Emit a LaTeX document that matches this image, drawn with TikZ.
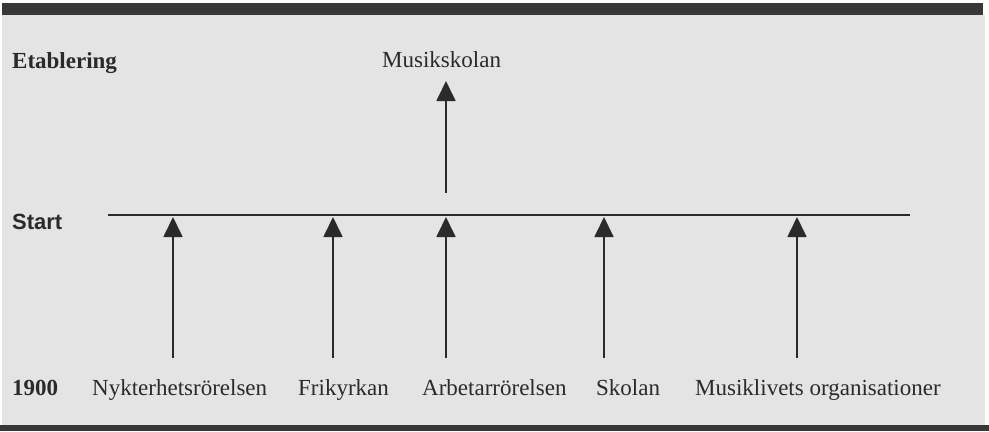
\documentclass[tikz,border=0pt]{standalone}
\usepackage{fontspec}
\setmainfont{Liberation Serif}
\setsansfont{Liberation Sans}
\usetikzlibrary{arrows.meta}
\definecolor{bg}{HTML}{E4E4E4}
\definecolor{bar}{HTML}{383838}
\definecolor{ink}{HTML}{2A2A2A}
\tikzset{
  lbl/.style={anchor=base west, inner sep=0pt, text=ink, font=\fontsize{23bp}{27bp}\selectfont},
  lblb/.style={lbl, font=\fontsize{23bp}{27bp}\selectfont\bfseries},
  lbls/.style={lbl, font=\fontsize{22bp}{26bp}\selectfont\sffamily\bfseries},
  arr/.style={draw=ink, line width=1.8bp, -{Triangle[length=20bp,width=19bp]}},
  axis/.style={draw=ink, line width=1.8bp}
}
\begin{document}
\begin{tikzpicture}[x=1bp, y=-1bp]
\useasboundingbox (0,0) rectangle (989,431);
\fill[white] (0,0) rectangle (989,431);
\fill[bg] (2,15) rectangle (985,425);
\fill[bar] (2,3) rectangle (983,15);
\fill[bar] (0,425) rectangle (989,431);

% left labels
\node[lblb] (etab) at (12,68) {Etablering};
\node[lbls] (start) at (12,229) {Start};
\node[lblb] (year) at (12,395) {1900};

% top label
\node[lbl] (musik) at (382,67) {Musikskolan};

% bottom labels
\node[lbl] (nyk) at (92,395) {Nykterhetsrörelsen};
\node[lbl] (fri) at (298,395) {Frikyrkan};
\node[lbl] (arb) at (422,395) {Arbetarrörelsen};
\node[lbl] (sko) at (596,395) {Skolan};
\node[lbl] (org) at (695,395) {Musiklivets organisationer};

% start line
\coordinate (L1) at (108,215);
\coordinate (L2) at (910,215);
\draw[axis] (L1) -- (L2);

% arrows from below
\foreach \n/\x in {a1/173, a2/333, a3/446, a4/604, a5/797}{
  \coordinate (\n s) at (\x,358);
  \coordinate (\n e) at (\x,217);
  \draw[arr] (\n s) -- (\n e);
}

% arrow to Musikskolan
\coordinate (ms) at (446,193);
\coordinate (me) at (446,81);
\draw[arr] (ms) -- (me);
\end{tikzpicture}
\end{document}
